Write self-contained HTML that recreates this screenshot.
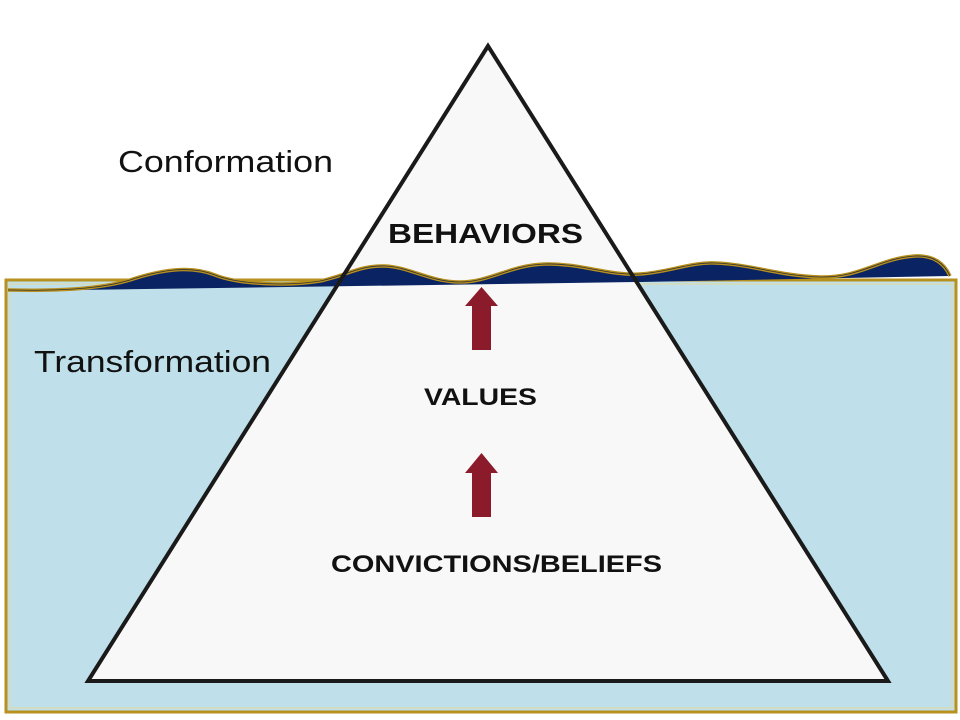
<!DOCTYPE html>
<html><head><style>body{margin:0;background:#fff}svg{display:block}</style></head><body>
<svg width="960" height="720" xmlns="http://www.w3.org/2000/svg" font-family="Liberation Sans, sans-serif">
<rect x="0" y="0" width="960" height="720" fill="#fff"/>
<rect x="6" y="280" width="950" height="432" fill="#bfe0ea" stroke="#b8901e" stroke-width="3"/>
<rect x="10" y="284" width="942" height="424" fill="none" stroke="#e6d79a" stroke-width="1"/>
<polygon points="488,46 88,681 888,681" fill="#f8f8f8"/>
<path d="M8,290 C60,291 100,289 130,280 C160,270 190,265 215,275 C240,285 290,286 320,281 C345,276 360,265 385,266 C410,267 430,282 460,282 C490,282 510,265 545,264 C580,263 610,276 640,274 C670,272 690,262 715,263 C750,264 780,276 820,277 C860,278 880,258 915,256 C935,255 945,265 950,276 L640,282 L8,291 Z" fill="#0a2463"/>
<path d="M8,290 C60,291 100,289 130,280 C160,270 190,265 215,275 C240,285 290,286 320,281 C345,276 360,265 385,266 C410,267 430,282 460,282 C490,282 510,265 545,264 C580,263 610,276 640,274 C670,272 690,262 715,263 C750,264 780,276 820,277 C860,278 880,258 915,256 C935,255 945,265 950,276" fill="none" stroke="#b8901e" stroke-width="3.5"/>
<path d="M8,290 C60,291 100,289 130,280 C160,270 190,265 215,275 C240,285 290,286 320,281 C345,276 360,265 385,266 C410,267 430,282 460,282 C490,282 510,265 545,264 C580,263 610,276 640,274 C670,272 690,262 715,263 C750,264 780,276 820,277 C860,278 880,258 915,256 C935,255 945,265 950,276" fill="none" stroke="#333" stroke-width="0.8"/>
<polygon points="488,46 88,681 888,681" fill="none" stroke="#1a1a1a" stroke-width="4" stroke-linejoin="miter"/>
<polygon points="472,350 491,350 491,306 498,306 481.5,287 465,306 472,306" fill="#8b1a2a"/>
<polygon points="472,517 491,517 491,473 498,473 481.5,453 465,473 472,473" fill="#8b1a2a"/>
<text x="118" y="172" font-size="31" fill="#111" textLength="215" lengthAdjust="spacingAndGlyphs">Conformation</text>
<text x="34" y="372" font-size="31" fill="#111" textLength="237" lengthAdjust="spacingAndGlyphs">Transformation</text>
<text x="388" y="243" font-size="28" font-weight="bold" fill="#111" textLength="195" lengthAdjust="spacingAndGlyphs">BEHAVIORS</text>
<text x="424" y="405" font-size="24" font-weight="bold" fill="#111" textLength="113" lengthAdjust="spacingAndGlyphs">VALUES</text>
<text x="331" y="572" font-size="24" font-weight="bold" fill="#111" textLength="331" lengthAdjust="spacingAndGlyphs">CONVICTIONS/BELIEFS</text>
</svg>
</body></html>
